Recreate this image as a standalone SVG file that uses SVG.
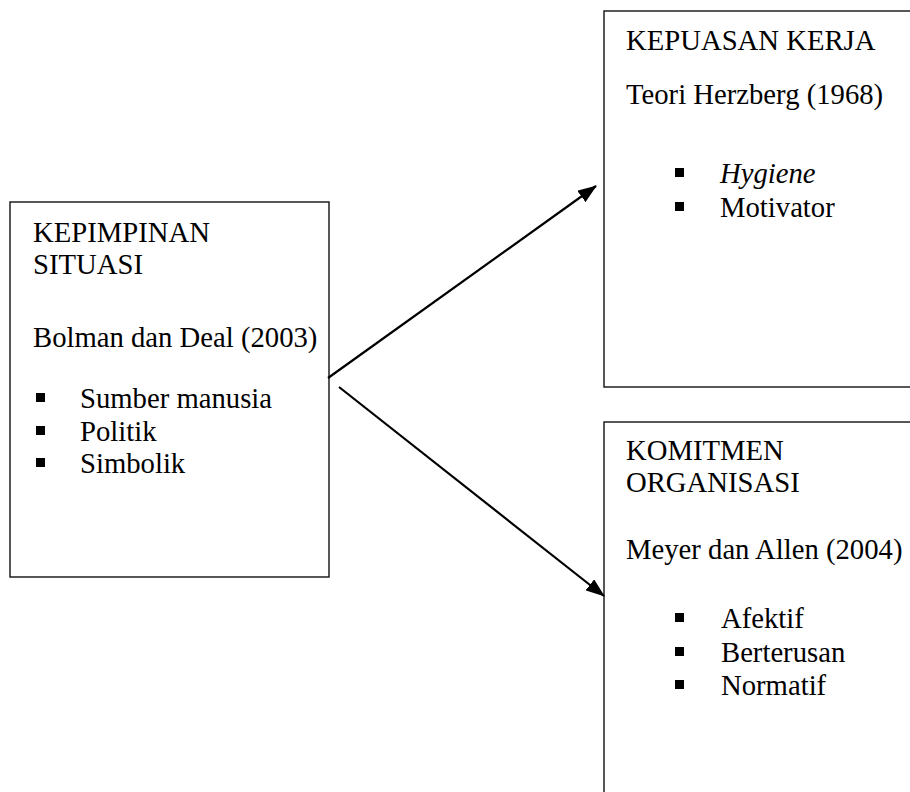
<svg xmlns="http://www.w3.org/2000/svg" width="910" height="792" viewBox="0 0 910 792">
  <style>
    .box { fill: #ffffff; stroke: #111111; stroke-width: 1.4; }
    .txt { font-family: "Liberation Serif", "Times New Roman", serif; font-size: 28.7px; fill: #000000; }
    .it { font-style: italic; }
    .bullet { fill: #000000; }
    .conn { stroke: #000000; stroke-width: 2.2; fill: none; marker-end: url(#head); }
  </style>
  <defs>
    <marker id="head" markerUnits="userSpaceOnUse" markerWidth="20" markerHeight="14" refX="18" refY="7" orient="auto">
      <path d="M0,0 L19,7 L0,14 z" fill="#000000"/>
    </marker>
  </defs>

  <rect width="910" height="792" fill="#ffffff"/>

  <!-- Leadership (source) box -->
  <g id="kepimpinan">
    <rect class="box" x="10" y="202" width="319" height="375"/>
    <text class="txt" x="33" y="242">KEPIMPINAN</text>
    <text class="txt" x="33" y="274">SITUASI</text>
    <text class="txt" x="33" y="347">Bolman dan Deal (2003)</text>
    <rect class="bullet" x="36" y="393" width="9" height="9"/>
    <text class="txt" x="80" y="408">Sumber manusia</text>
    <rect class="bullet" x="36" y="426" width="9" height="9"/>
    <text class="txt" x="80" y="441">Politik</text>
    <rect class="bullet" x="36" y="458" width="9" height="9"/>
    <text class="txt" x="80" y="473">Simbolik</text>
  </g>

  <!-- Job satisfaction box -->
  <g id="kepuasan">
    <rect class="box" x="604" y="11" width="330" height="376"/>
    <text class="txt" x="626" y="50">KEPUASAN KERJA</text>
    <text class="txt" x="626" y="104">Teori Herzberg (1968)</text>
    <rect class="bullet" x="675" y="168" width="9" height="9"/>
    <text class="txt it" x="720" y="183">Hygiene</text>
    <rect class="bullet" x="675" y="202" width="9" height="9"/>
    <text class="txt" x="720" y="217">Motivator</text>
  </g>

  <!-- Organisational commitment box -->
  <g id="komitmen">
    <rect class="box" x="604" y="422" width="330" height="400"/>
    <text class="txt" x="626" y="460">KOMITMEN</text>
    <text class="txt" x="626" y="492">ORGANISASI</text>
    <text class="txt" x="626" y="559">Meyer dan Allen (2004)</text>
    <rect class="bullet" x="675" y="613" width="9" height="9"/>
    <text class="txt" x="721" y="628">Afektif</text>
    <rect class="bullet" x="675" y="647" width="9" height="9"/>
    <text class="txt" x="721" y="662">Berterusan</text>
    <rect class="bullet" x="675" y="680" width="9" height="9"/>
    <text class="txt" x="721" y="695">Normatif</text>
  </g>

  <!-- Connectors -->
  <g id="connectors">
    <line class="conn" x1="328" y1="378" x2="596" y2="186"/>
    <line class="conn" x1="339" y1="387" x2="604" y2="596"/>
  </g>
</svg>
